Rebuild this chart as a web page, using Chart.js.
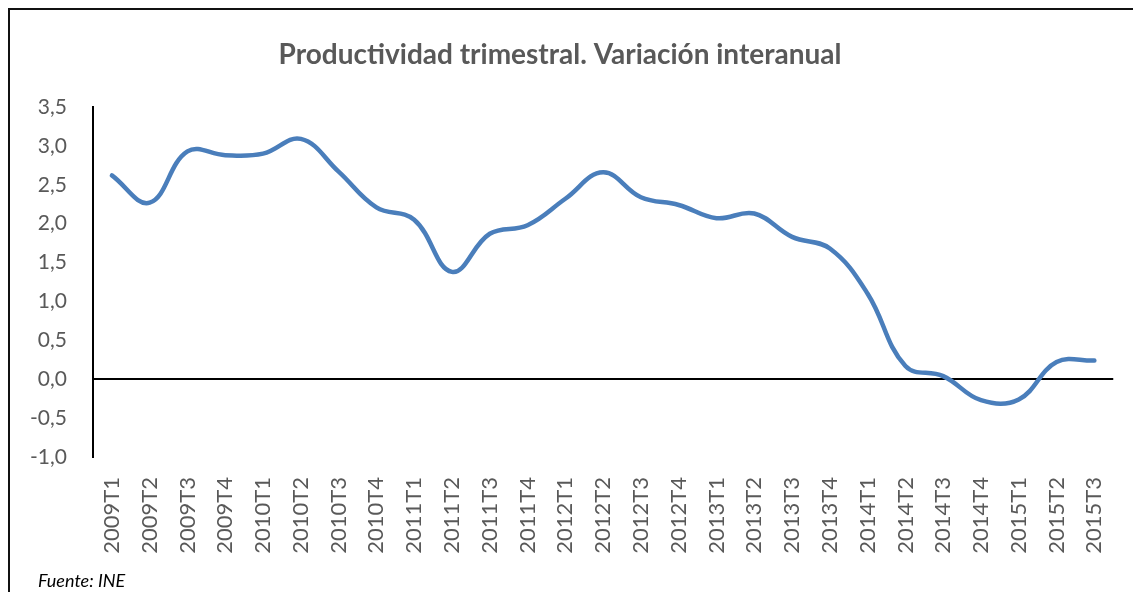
<!DOCTYPE html>
<html><head><meta charset="utf-8">
<script src="https://cdn.jsdelivr.net/npm/chart.js@4/dist/chart.umd.min.js"></script>
<style>
html,body{margin:0;padding:0;background:#fff;overflow:hidden;}
#wrap{position:relative;width:1133px;height:592px;overflow:hidden;}
#frame{position:absolute;left:8px;top:8px;width:1300px;height:800px;border-left:2px solid #111;border-top:2px solid #111;}
#src{position:absolute;left:38px;top:570px;font:italic 18px Lato, sans-serif;line-height:20px;color:#000;}
canvas{position:absolute;left:0;top:0;}
</style></head><body>
<div id="wrap"><div id="frame"></div><canvas id="c" width="1133" height="592"></canvas><div id="src">Fuente: INE</div></div>
<script>
const categories = ["2009T1","2009T2","2009T3","2009T4","2010T1","2010T2","2010T3","2010T4","2011T1","2011T2","2011T3","2011T4","2012T1","2012T2","2012T3","2012T4","2013T1","2013T2","2013T3","2013T4","2014T1","2014T2","2014T3","2014T4","2015T1","2015T2","2015T3"];
const productividad = [2.62,2.27,2.93,2.88,2.90,3.09,2.67,2.21,2.05,1.38,1.87,1.98,2.32,2.66,2.34,2.24,2.07,2.13,1.83,1.68,1.10,0.17,0.04,-0.27,-0.26,0.22,0.24];
const yMin = -1.0, yMax = 3.5, yStep = 0.5;
const titleText = "Productividad trimestral. Variación interanual";

const FONT = "Lato, 'Open Sans', sans-serif";
new Chart(document.getElementById('c'), {
  type: 'line',
  data: {
    labels: categories,
    datasets: [{
      data: productividad,
      borderColor: '#4a7ebb',
      borderWidth: 4.5,
      tension: 0.4,
      pointRadius: 0,
      fill: false,
      borderCapStyle: 'round'
    }]
  },
  options: {
    responsive: false,
    animation: false,
    layout: { padding: { top: 38, left: 0, right: 13, bottom: 0 } },
    plugins: {
      legend: { display: false },
      tooltip: { enabled: false },
      title: {
        display: true,
        text: titleText,
        color: '#595959',
        font: { family: FONT, size: 28, weight: 'bold', lineHeight: 1.2 },
        padding: { top: 0, bottom: 35.4 }
      }
    },
    scales: {
      x: {
        offset: true,
        grid: { display: false },
        border: { display: false },
        ticks: {
          minRotation: 90, maxRotation: 90, autoSkip: false,
          color: '#595959', padding: 12,
          font: { family: FONT, size: 22 }
        },
        afterFit: (s) => { s.height = 135; }
      },
      y: {
        min: yMin, max: yMax,
        border: { display: true, color: '#000', width: 2 },
        grid: {
          drawTicks: false,
          color: (ctx) => (ctx.tick && ctx.tick.value === 0) ? '#000' : 'rgba(0,0,0,0)',
          lineWidth: 2
        },
        ticks: {
          stepSize: yStep,
          color: '#595959',
          padding: 26,
          font: { family: FONT, size: 21 },
          callback: (v) => Number(v).toFixed(1).replace('.', ',')
        },
        afterFit: (s) => { s.width = 93; }
      }
    }
  }
});
</script>
</body></html>
